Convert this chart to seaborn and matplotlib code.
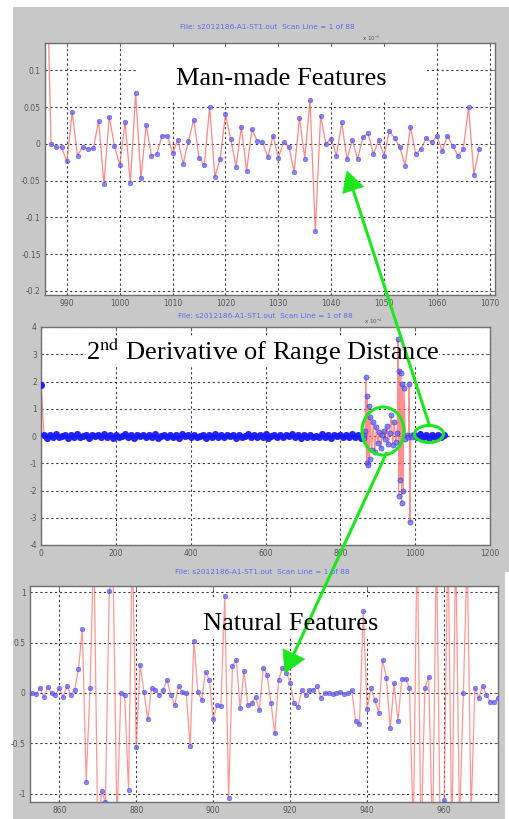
import numpy as np
import pandas as pd
import matplotlib
matplotlib.use("Agg")
import matplotlib.pyplot as plt
import seaborn as sns
from matplotlib.patches import Rectangle, Ellipse, Polygon

sns.set_theme(style="white")
plt.rcParams["font.family"] = ["DejaVu Sans"]
plt.rcParams["mathtext.fontset"] = "stix"

FILE_TITLE = "File: s2012186-A1-ST1.out  Scan Line = 1 of 88"

# ---------------- Panel 1 : man-made features ----------------
mm_x = list(range(986, 1069))
mm_y = [0.30, 0.000, -0.005, -0.005, -0.024,
        0.043, -0.016, -0.004, -0.007, -0.006,
        0.031, -0.055, 0.037, -0.003, -0.029,
        0.030, -0.053, 0.069, -0.047, 0.025,
        -0.016, -0.014, 0.011, 0.011, -0.012,
        0.005, -0.027, 0.004, 0.033, -0.019,
        -0.029, 0.050, -0.045, -0.020, 0.040,
        0.006, -0.031, 0.023, -0.037, 0.020,
        0.004, 0.003, -0.018, 0.011, -0.019,
        0.002, -0.004, -0.038, 0.035, -0.020,
        0.059, -0.119, 0.038, 0.000, 0.007,
        -0.016, 0.029, -0.021, 0.005, -0.021,
        0.009, 0.014, -0.014, 0.005, -0.016,
        0.017, 0.008, -0.005, -0.030, 0.023,
        -0.014, -0.007, 0.008, 0.002, 0.011,
        -0.010, 0.011, -0.003, -0.016, -0.007,
        0.050, -0.042, -0.007]
p1_xticks = [990, 1000, 1010, 1020, 1030, 1040, 1050, 1060, 1070]
p1_yticks = [-0.2, -0.15, -0.1, -0.05, 0, 0.05, 0.1]
p1_yticklabels = ["-0.2", "-0.15", "-0.1", "-0.05", "0", "0.05", "0.1"]

# ---------------- Panel 2 : 2nd derivative, whole scan line ----------------
rd_base_y = [
    1.87, 0.05, -0.06, 0.03, -0.02, 0.07, -0.05, 0.01, 0.04, -0.07,
    0.02, -0.03, 0.06, -0.04, 0.00, 0.05, -0.06, 0.03, -0.01, 0.04,
    -0.05, 0.06, -0.02, 0.02, -0.07, 0.05, -0.03, 0.01, 0.06, -0.04,
    0.03, -0.06, 0.02, -0.01, 0.05, -0.05, 0.04, -0.02, 0.07, -0.06,
    0.01, 0.03, -0.04, 0.05, -0.03, 0.02, -0.06, 0.06, -0.01, 0.03,
    -0.05, 0.04, -0.02, 0.01, 0.05, -0.07, 0.03, -0.03, 0.06, -0.04,
    0.02, -0.05, 0.04, -0.01, 0.03, -0.06, 0.05, -0.02, 0.00, 0.06,
    -0.04, 0.03, -0.05, 0.02, -0.03, 0.07, -0.06, 0.01, 0.04, -0.02,
    0.05, -0.05, 0.03, -0.01, 0.06, -0.04, 0.02, -0.07, 0.04, -0.03,
    0.05, -0.02, 0.01, -0.05, 0.06, -0.03, 0.03, -0.06, 0.04, -0.01,
    0.05, -0.04, 0.02, -0.05, 0.07, -0.03, 0.04, -0.06]
rd_base_step = 8
rd_spike_x = [862, 864, 866, 868, 870, 872, 874, 876, 878, 880, 884, 888, 892, 896,
              900, 904, 908, 912, 916, 920, 924, 928, 932, 936, 940, 944, 948, 952,
              954, 956, 958, 960, 962, 964, 966, 968, 970, 974, 978, 982, 984, 986,
              988, 992]
rd_spike_y = [0.05, -0.08, 0.2, 2.15, -1.0, 1.45, -1.08, 1.1, -0.85, 0.7,
              -0.5, 0.5, -0.6, 0.33, -0.26, 0.15, -0.44, 0.05, 0.2, -0.1,
              0.35, -0.3, 0.1, 0.77, -0.33, 0.5, -0.22, 0.1, 3.55, -2.2,
              2.4, -1.6, 2.3, -2.45, 1.9, -2.0, 1.75, -0.1, 0.05, -0.05,
              1.9, -3.15, 0.05, -0.03]
rd_tail_start = 996
rd_tail_y = [0.04, -0.05, 0.06, -0.03, 0.05, -0.06, 0.03, -0.04, 0.05, -0.02, 0.03]
p2_xticks = [0, 200, 400, 600, 800, 1000, 1200]
p2_yticks = [-4, -3, -2, -1, 0, 1, 2, 3, 4]

# ---------------- Panel 3 : natural features ----------------
nat_start = 853
nat_y = [0, -0.01, 0.05, -0.04, 0.06, 0, -0.02, 0.05, -0.04, 0.07,
         -0.02, 0.03, 0.24, 0.63, -0.88, 0.05, 1.5, -1.4, -0.97, -1.08,
         1.01, 1.2, -1.3, 0, -0.02, -0.96, 1.5, -0.54, 0.28, 0.01,
         -0.26, 0.05, 0.03, -0.02, 0.03, 0.13, -0.02,
         -0.12, 0.07, 0.01, 0, -0.53, 0.52, 0.01, -0.07, 0.21, 0.13,
         -0.26, -0.12, -0.13, 0.96, -1.04, 0.27, 0.33, -0.15, 0.22, -0.12,
         -0.10, -0.04, -0.17, 0.25, 0.18, -0.1, -0.40, 0.13, 0.25, 0.2,
         0.10, -0.10, -0.14, 0.03, -0.02, 0.03, 0.03, 0.07, -0.05, 0,
         0, -0.01,
         0.0, 0.01, -0.01, 0.0, 0.03, -0.28, -0.31, 0.81, -0.16, 0.05,
         -0.07, -0.2, 0.33, 0.15, -0.35, 0.10, -0.28, 0.14, 0.14, 0.05,
         -1.4, 1.6, -1.5, 0.05, 0.16, -1.5, 1.5, -1.4, -1.06, 1.6,
         -1.5, 1.5, -1.3, 0.0, 1.4, -1.2, 0.05, -0.05, 0.07, -0.02,
         -0.09, -0.09, -0.05]
p3_xticks = [860, 880, 900, 920, 940, 960]
p3_yticks = [-1, -0.5, 0, 0.5, 1]
p3_yticklabels = ["-1", "-0.5", "0", "0.5", "1"]

# ---------------- styling ----------------
W, H = 510, 819
RED = "#ff6a6a"
BLUE = "#6060f5"
BAND_BLUE = "#1818ff"
GREEN = "#1ee61e"
TITLE_BLUE = "#5b6ee8"

fig = plt.figure(figsize=(W / 100, H / 100), dpi=100, facecolor="white")
fig.patches.append(Rectangle((13 / W, 0), (W - 13) / W, (H - 7) / H, transform=fig.transFigure,
                             facecolor="#c8c8c8", edgecolor="none", zorder=-5))


def px_axes(left, top, right, bottom):
    return fig.add_axes([left / W, (H - bottom) / H, (right - left) / W, (bottom - top) / H])


def style(ax, xlim, ylim, xticks, yticks, ytl=None):
    ax.set_facecolor("white")
    ax.set_xlim(*xlim)
    ax.set_ylim(*ylim)
    ax.set_xticks(xticks)
    ax.set_yticks(yticks)
    ax.set_xticklabels([str(t) for t in xticks])
    ax.set_yticklabels(ytl if ytl else [str(t) for t in yticks])
    ax.set_axisbelow(True)
    ax.grid(True, color="#3a3a3a", linestyle=(0, (2.0, 2.4)), linewidth=0.8)
    ax.tick_params(direction="in", length=3, width=0.6, colors="#666666",
                   labelsize=5.5, pad=3, labelcolor="#555555",
                   top=True, right=True)
    for s in ax.spines.values():
        s.set_color("#707070")
        s.set_linewidth(1.0)
    ax.set_xlabel("")
    ax.set_ylabel("")


def white_box(ax, x0, y0, w, h):
    ax.add_patch(Rectangle((x0, y0), w, h, transform=ax.transAxes, facecolor="white",
                           edgecolor="none", zorder=1.2))


# Panel 1
ax1 = px_axes(45, 43, 495, 295)
df1 = pd.DataFrame({"x": mm_x, "y": mm_y})
sns.lineplot(data=df1, x="x", y="y", ax=ax1, color=RED, lw=0.9, alpha=0.8,
             estimator=None, sort=False, zorder=2)
sns.scatterplot(data=df1, x="x", y="y", ax=ax1, color=BLUE, s=12, alpha=0.75,
                linewidth=0.3, edgecolor="#3a3aee", zorder=3)
style(ax1, (985.85, 1071), (-0.2055, 0.137), p1_xticks, p1_yticks, p1_yticklabels)
white_box(ax1, 0.207, 0.774, 0.642, 0.210)

# Panel 2
ax2 = px_axes(41, 327, 490, 545)
base_x = list(np.arange(len(rd_base_y)) * rd_base_step)
tail_x = list(rd_tail_start + np.arange(len(rd_tail_y)) * rd_base_step)
df2 = pd.DataFrame({"x": base_x + rd_spike_x + tail_x,
                    "y": rd_base_y + rd_spike_y + rd_tail_y})
df2_band = pd.DataFrame({"x": base_x + tail_x, "y": rd_base_y + rd_tail_y})
df2_spk = pd.DataFrame({"x": rd_spike_x, "y": rd_spike_y})
sns.lineplot(data=df2, x="x", y="y", ax=ax2, color=RED, lw=0.9, alpha=0.75,
             estimator=None, sort=False, zorder=2)
sns.scatterplot(data=df2_band, x="x", y="y", ax=ax2, color=BAND_BLUE, s=26, alpha=0.95,
                linewidth=0, zorder=3)
sns.scatterplot(data=df2_spk, x="x", y="y", ax=ax2, color=BLUE, s=14, alpha=0.75,
                linewidth=0.4, edgecolor="#2020d0", zorder=3)
style(ax2, (0, 1200), (-4, 4), p2_xticks, p2_yticks)
white_box(ax2, 0.100, 0.826, 0.786, 0.128)

# Panel 3
ax3 = px_axes(30, 586, 498, 802)
nat_x = list(nat_start + np.arange(len(nat_y)))
df3 = pd.DataFrame({"x": nat_x, "y": nat_y})
sns.lineplot(data=df3, x="x", y="y", ax=ax3, color=RED, lw=0.9, alpha=0.7,
             estimator=None, sort=False, zorder=2)
sns.scatterplot(data=df3, x="x", y="y", ax=ax3, color=BLUE, s=12, alpha=0.75,
                linewidth=0.3, edgecolor="#3a3aee", zorder=3)
style(ax3, (852.4, 974), (-1.08, 1.06), p3_xticks, p3_yticks, p3_yticklabels)
white_box(ax3, 0.363, 0.759, 0.389, 0.176)

# white strip at lower right edge
fig.patches.append(Rectangle((505 / W, 0), 5 / W, (H - 572) / H, transform=fig.transFigure,
                             facecolor="white", edgecolor="none", zorder=-4))

# ---------------- overlay: titles, labels, annotations ----------------
ov = fig.add_axes([0, 0, 1, 1], zorder=20)
ov.set_xlim(0, W)
ov.set_ylim(H, 0)
ov.axis("off")
ov.patch.set_alpha(0)

for (tx, ty) in [(267, 27), (265, 316), (262, 572)]:
    ov.text(tx, ty, FILE_TITLE, color=TITLE_BLUE, fontsize=5.3, ha="center", va="center")
ov.text(371, 38, "x 10$^{-3}$", color="#555555", fontsize=4, ha="center", va="center")
ov.text(373, 321, "x 10$^{-4}$", color="#555555", fontsize=4, ha="center", va="center")

serif = ["Liberation Serif", "DejaVu Serif"]
ov.text(281.5, 85, "Man-made Features", family=serif, fontsize=19, ha="center",
        va="baseline", color="black")
ov.text(262.5, 360, r"2$^{\rm nd}$ Derivative of Range Distance", family=serif,
        fontsize=19, ha="center", va="baseline", color="black")
ov.text(290.5, 630, "Natural Features", family=serif, fontsize=19, ha="center",
        va="baseline", color="black")

ov.add_patch(Ellipse((383, 431), 42, 48, fill=False, edgecolor=GREEN, lw=2.2))
ov.add_patch(Ellipse((429, 434), 29, 17, fill=False, edgecolor=GREEN, lw=2.2))


def arrow(start, tip, head_len, half_w):
    s = np.array(start, float)
    t = np.array(tip, float)
    d = (t - s) / np.linalg.norm(t - s)
    p = np.array([-d[1], d[0]])
    base = t - head_len * d
    ov.plot([s[0], base[0]], [s[1], base[1]], color=GREEN, lw=2.2, solid_capstyle="butt")
    ov.add_patch(Polygon([t, base + half_w * p, base - half_w * p], closed=True,
                         facecolor=GREEN, edgecolor=GREEN, lw=0.5))


arrow((430, 427), (347, 171), 20, 11)
arrow((387, 452), (285, 673), 21, 12)

fig.savefig("out.png", dpi=100, facecolor="white")
